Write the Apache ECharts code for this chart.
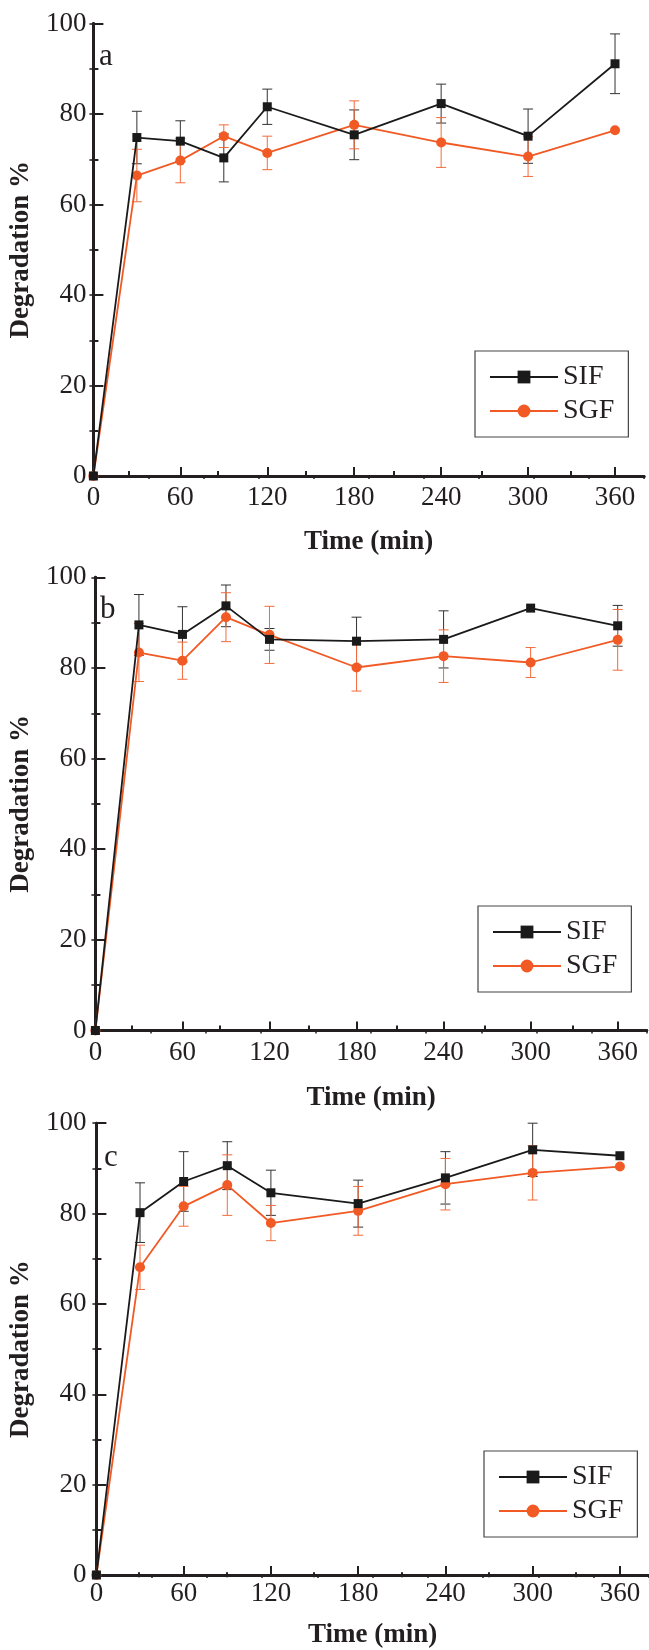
<!DOCTYPE html>
<html>
<head>
    <meta charset="UTF-8"/>
    <script src="https://cdn.jsdelivr.net/npm/echarts@6.0.0/dist/echarts.min.js"></script>
    <title>Degradation</title>
    <style>
        body { margin: 0; background: #fff; }
        #main { width: 649px; height: 1650px; }
    </style>
</head>
<body>
<div id="main"></div>
<script type="text/javascript">
    // time points (min)
    var times = [0, 30, 60, 90, 120, 180, 240, 300, 360];
    var majorTicks = [0, 60, 120, 180, 240, 300, 360];
    var minorTicks = [30, 90, 150, 210, 270, 330];

    // panel a
    var sifA = [0, 74.8, 74.0, 70.3, 81.6, 75.4, 82.3, 75.1, 91.1];
    var sifAErr = [0, 5.8, 4.5, 5.3, 3.9, 5.5, 4.3, 6.0, 6.6];
    var sgfA = [0, 66.4, 69.7, 75.1, 71.4, 77.6, 73.7, 70.6, 76.4];
    var sgfAErr = [0, 5.8, 4.9, 2.5, 3.7, 5.3, 5.5, 4.4, 0];

    // panel b
    var sifB = [0, 89.5, 87.4, 93.7, 86.3, 85.9, 86.3, 93.2, 89.3];
    var sifBErr = [0, 6.7, 6.1, 4.6, 2.4, 5.3, 6.3, 0, 4.5];
    var sgfB = [0, 83.4, 81.6, 91.2, 87.3, 80.1, 82.6, 81.2, 86.2];
    var sgfBErr = [0, 6.4, 4.1, 5.4, 6.3, 5.2, 5.8, 3.3, 6.7];

    // panel c
    var sifC = [0, 80.2, 87.1, 90.6, 84.6, 82.2, 87.9, 94.1, 92.8];
    var sifCErr = [0, 6.6, 6.6, 5.3, 5.0, 5.2, 5.8, 5.9, 0];
    var sgfC = [0, 68.1, 81.6, 86.3, 77.9, 80.6, 86.5, 89.0, 90.4];
    var sgfCErr = [0, 4.9, 4.4, 6.7, 3.9, 5.4, 5.7, 6.0, 0];

    var FONT = '"Liberation Serif", "Times New Roman", serif';
    var TXT = '#231f20';
    var BLACK = '#1a1a1a';
    var ORANGE = '#f15a24';

    // layout of each panel
    var panels = [
        {label: 'a', sif: sifA, sifErr: sifAErr, sgf: sgfA, sgfErr: sgfAErr,
            left: 85, right: 5, top: 23.5, height: 452.5, xGap: 53, yGap: 45, xMargin: 8, yMargin: 7,
            lblLeft: 99, lblTop: 41, legLeft: 475, legTop: 351},
        {label: 'b', sif: sifB, sifErr: sifBErr, sgf: sgfB, sgfErr: sgfBErr,
            left: 87.7, right: 2.3, top: 577.3, height: 453.2, xGap: 54, yGap: 49, xMargin: 9, yMargin: 9,
            lblLeft: 100, lblTop: 594, legLeft: 478, legTop: 906},
        {label: 'c', sif: sifC, sifErr: sifCErr, sgf: sgfC, sgfErr: sgfCErr,
            left: 95.3, right: -6.2, top: 1123.2, height: 454.1, xGap: 47, yGap: 54, xMargin: 5, yMargin: 10,
            lblLeft: 104, lblTop: 1142, legLeft: 484, legTop: 1451}
    ];

    function errData(vals, errs) {
        var out = [];
        for (var i = 0; i < times.length; i++) {
            if (errs[i] > 0) out.push([times[i], vals[i] - errs[i], vals[i] + errs[i]]);
        }
        return out;
    }

    function renderErr(params, api) {
        var x = api.value(0);
        var lo = api.coord([x, api.value(1)]);
        var hi = api.coord([x, api.value(2)]);
        var w = 5;
        var st = {stroke: api.visual('color'), lineWidth: 1};
        return {
            type: 'group',
            children: [
                {type: 'line', shape: {x1: lo[0], y1: lo[1], x2: hi[0], y2: hi[1]}, style: st},
                {type: 'line', shape: {x1: lo[0] - w, y1: lo[1], x2: lo[0] + w, y2: lo[1]}, style: st},
                {type: 'line', shape: {x1: hi[0] - w, y1: hi[1], x2: hi[0] + w, y2: hi[1]}, style: st}
            ]
        };
    }

    function pairs(vals) {
        return times.map(function (t, i) { return [t, vals[i]]; });
    }

    var option = {
        backgroundColor: '#fff',
        animation: false,
        title: [],
        legend: [],
        grid: [],
        xAxis: [],
        yAxis: [],
        series: []
    };

    var lineAx = {show: true, lineStyle: {color: TXT, width: 3}};

    panels.forEach(function (p, k) {
        var g = 2 * k, g2 = 2 * k + 1;
        var rect = {left: p.left, right: p.right, top: p.top, height: p.height, containLabel: false};
        option.grid.push(rect);
        option.grid.push(Object.assign({}, rect));

        option.title.push({
            text: p.label, left: p.lblLeft, top: p.lblTop, padding: 0,
            textStyle: {fontFamily: FONT, fontSize: 31, fontWeight: 'normal', color: TXT}
        });

        option.legend.push({
            data: ['SIF', 'SGF'], orient: 'vertical',
            left: p.legLeft, top: p.legTop,
            padding: [12, 14, 12, 14], itemGap: 6, itemWidth: 68, itemHeight: 16,
            borderColor: '#444', borderWidth: 1.2, selectedMode: false,
            textStyle: {fontFamily: FONT, fontSize: 28, color: TXT, lineHeight: 27}
        });

        // main bottom axis
        option.xAxis.push({
            type: 'value', gridIndex: g, position: 'bottom', min: 0, max: 380, interval: 60,
            name: 'Time (min)', nameLocation: 'middle', nameGap: p.xGap,
            nameTextStyle: {fontFamily: FONT, fontSize: 27, fontWeight: 'bold', color: TXT},
            axisLine: lineAx,
            axisTick: {show: true, inside: true, length: 9, customValues: majorTicks, lineStyle: {color: TXT, width: 2}},
            axisLabel: {margin: p.xMargin, customValues: majorTicks, fontFamily: FONT, fontSize: 27, color: TXT},
            splitLine: {show: false}
        });
        // top frame
        option.xAxis.push({
            type: 'value', gridIndex: g, position: 'top', min: 0, max: 380, interval: 38,
            axisLine: lineAx,
            axisTick: {show: true, inside: true, length: 3, lineStyle: {color: TXT, width: 1.5}},
            axisLabel: {show: false}, splitLine: {show: false}
        });
        // minor ticks on bottom
        option.xAxis.push({
            type: 'value', gridIndex: g2, position: 'bottom', min: 0, max: 380, interval: 30,
            axisLine: {show: false},
            axisTick: {show: true, inside: true, length: 5, customValues: minorTicks, lineStyle: {color: TXT, width: 2}},
            axisLabel: {show: false}, splitLine: {show: false}
        });

        option.yAxis.push({
            type: 'value', gridIndex: g, position: 'left', min: 0, max: 100, interval: 20,
            name: 'Degradation %', nameLocation: 'middle', nameGap: p.yGap,
            nameTextStyle: {fontFamily: FONT, fontSize: 27, fontWeight: 'bold', color: TXT},
            axisLine: lineAx,
            axisTick: {show: true, inside: true, length: 10, lineStyle: {color: TXT, width: 2}},
            minorTick: {show: true, splitNumber: 2, length: 5, lineStyle: {color: TXT, width: 2}},
            axisLabel: {margin: p.yMargin, fontFamily: FONT, fontSize: 27, color: TXT},
            splitLine: {show: false}
        });
        option.yAxis.push({
            type: 'value', gridIndex: g, position: 'right', min: 0, max: 100, interval: 10,
            axisLine: lineAx,
            axisTick: {show: true, inside: true, length: 4, lineStyle: {color: TXT, width: 1.5}},
            axisLabel: {show: false}, splitLine: {show: false}
        });
        option.yAxis.push({
            type: 'value', gridIndex: g2, min: 0, max: 100, show: false
        });

        var xi = 3 * k, yi = 3 * k;
        option.series.push({
            name: 'sif-err-' + k, type: 'custom', xAxisIndex: xi, yAxisIndex: yi, z: 1,
            renderItem: renderErr, encode: {x: 0, y: [1, 2]},
            itemStyle: {color: '#333'}, data: errData(p.sif, p.sifErr)
        });
        option.series.push({
            name: 'sgf-err-' + k, type: 'custom', xAxisIndex: xi, yAxisIndex: yi, z: 1,
            renderItem: renderErr, encode: {x: 0, y: [1, 2]},
            itemStyle: {color: '#f36b3b'}, data: errData(p.sgf, p.sgfErr)
        });
        option.series.push({
            name: 'SIF', type: 'line', xAxisIndex: xi, yAxisIndex: yi, z: 3,
            symbol: 'rect', symbolSize: 9, clip: false,
            lineStyle: {color: BLACK, width: 1.8}, itemStyle: {color: BLACK},
            data: pairs(p.sif)
        });
        option.series.push({
            name: 'SGF', type: 'line', xAxisIndex: xi, yAxisIndex: yi, z: 2,
            symbol: 'circle', symbolSize: 10, clip: false,
            lineStyle: {color: ORANGE, width: 1.8}, itemStyle: {color: ORANGE},
            data: pairs(p.sgf)
        });
    });

    var myChart = echarts.init(document.getElementById('main'), null, {renderer: 'canvas'});
    myChart.setOption(option);
</script>
</body>
</html>
